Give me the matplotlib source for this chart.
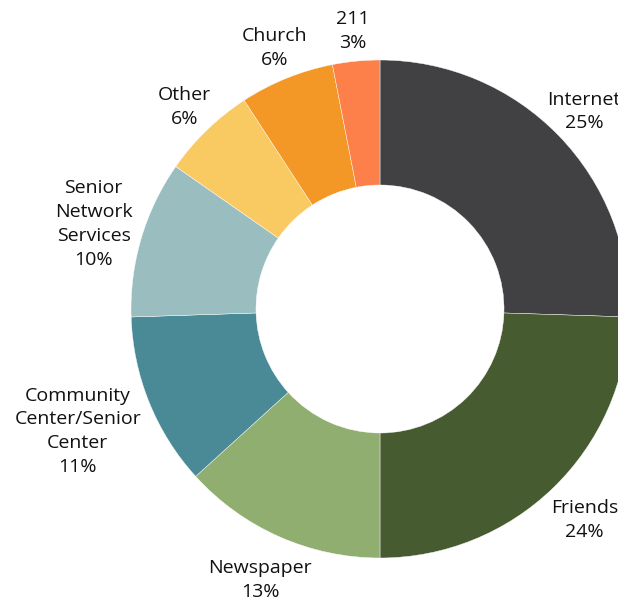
import matplotlib
matplotlib.use("Agg")
import matplotlib.pyplot as plt
import numpy as np

# where people heard about the program
sources = ["Internet", "Friends", "Newspaper", "Community\nCenter/Senior\nCenter",
           "Senior\nNetwork\nServices", "Other", "Church", "211"]
shares = [25, 24, 13, 11, 10, 6, 6, 3]
colors = ["#414042", "#465b2f", "#8fae6f", "#4a8a97",
          "#9abdbf", "#f9c962", "#f39727", "#fd7f4a"]

plt.rcParams["font.family"] = ["Open Sans", "DejaVu Sans"]

fig = plt.figure(figsize=(6.18, 6.0), dpi=100)
ax = fig.add_axes([0, 0, 1, 1])

cx, cy, r_out, r_in = 380, 291, 249, 124
wedges, _ = ax.pie(shares, colors=colors, startangle=90, counterclock=False,
                   center=(cx, cy), radius=r_out,
                   wedgeprops=dict(width=r_out - r_in, edgecolor="white", linewidth=0.3))

# label offset (fraction of outer radius) per slice
label_dist = [1.14, 1.18, 1.19, 1.31, 1.20, 1.13, 1.13, 1.12]
for w, name, val, k in zip(wedges, sources, shares, label_dist):
    mid = np.deg2rad((w.theta1 + w.theta2) / 2)
    x = cx + k * r_out * np.cos(mid)
    y = cy + k * r_out * np.sin(mid)
    ax.text(x, y, f"{name}\n{val}%", ha="center", va="center",
            fontsize=14, color="#111111", linespacing=1.42)

ax.set_xlim(0, 618)
ax.set_ylim(0, 600)
ax.set_aspect("equal")
ax.axis("off")

fig.savefig("out.png", dpi=100)
